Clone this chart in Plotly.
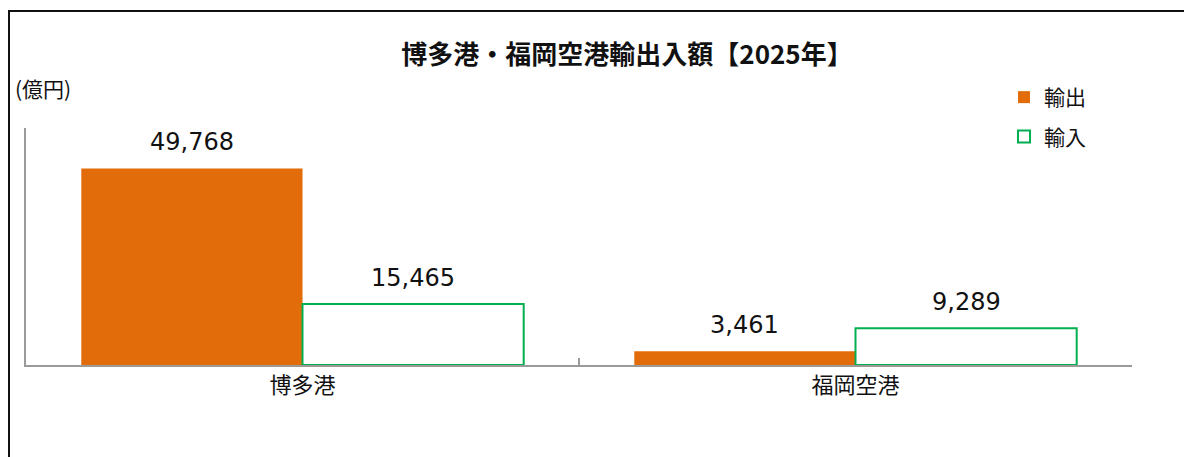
import plotly.graph_objects as go

categories = ["博多港", "福岡空港"]
export_values = [49768, 3461]
import_values = [15465, 9289]
series_names = ["輸出", "輸入"]
title_text = "博多港・福岡空港輸出入額【2025年】"
unit_text = "(億円)"

ORANGE = "#E36C0A"
GREEN = "#00B050"
AXIS = "#9A9A9A"
FONT = "Noto Sans CJK JP"
NUMFONT = "DejaVu Sans"

# the page body adds an 8px margin; target screen coords are converted below
OFF = 8
W, H = 1192 - OFF, 457 - OFF
PLOT_L, PLOT_R, PLOT_T, PLOT_B = 26, 1132, 128, 365  # screen px
ML = PLOT_L - OFF
MR = W - (PLOT_R - OFF)
MT = PLOT_T - OFF
MB = H - (PLOT_B - OFF)
PW, PH = W - ML - MR, H - MT - MB

def px2paper_x(px):
    return (px - OFF - ML) / PW

def px2paper_y(py):
    return (H - MB - (py - OFF)) / PH

fig = go.Figure()
fig.add_trace(go.Bar(
    x=categories, y=export_values, name=series_names[0],
    marker=dict(color=ORANGE, line=dict(width=0)),
    legendgroup="a",
))
fig.add_trace(go.Bar(
    x=categories, y=import_values, name=series_names[1],
    marker=dict(color="white", line=dict(color=GREEN, width=2)),
    legendgroup="b",
))

bargap = 0.2
bar_w = (1 - bargap) / 2
annotations = []
for i in range(len(categories)):
    for off, vals in ((-bar_w / 2, export_values), (bar_w / 2, import_values)):
        annotations.append(dict(
            x=i + off, y=vals[i], xref="x", yref="y",
            text=f"{vals[i]:,}", showarrow=False,
            yanchor="middle", yshift=26,
            font=dict(size=24, color="#111", family=NUMFONT),
        ))
annotations.append(dict(
    x=px2paper_x(13), y=px2paper_y(88), xref="paper", yref="paper",
    text=unit_text, showarrow=False, xanchor="left", yanchor="middle",
    font=dict(size=21, color="#111", family=FONT),
))

fig.update_layout(
    width=W, height=H,
    margin=dict(l=ML, r=MR, t=MT, b=MB, pad=0),
    paper_bgcolor="white", plot_bgcolor="white",
    barmode="group", bargap=bargap, bargroupgap=0,
    title=dict(text=f"<b>{title_text}</b>", x=(627 - OFF) / W, xref="container", xanchor="center",
               y=1 - (55 - OFF) / H, yref="container", yanchor="middle",
               font=dict(size=26, color="#111", family=FONT)),
    font=dict(family=FONT, color="#111"),
    showlegend=True,
    legend=dict(x=px2paper_x(1004), y=px2paper_y(77), xanchor="left", yanchor="top",
                font=dict(size=21, family=FONT, color="#111"),
                tracegroupgap=9, traceorder="grouped",
                bgcolor="rgba(0,0,0,0)", itemwidth=30),
    xaxis=dict(type="category", showline=True, linecolor=AXIS, linewidth=2,
               ticks="inside", tickson="boundaries", ticklen=7, tickcolor=AXIS, tickwidth=2,
               tickfont=dict(size=22, family=FONT, color="#111"),
               showgrid=False, zeroline=False),
    yaxis=dict(range=[0, 60000], showline=True, linecolor=AXIS, linewidth=2,
               showticklabels=False, ticks="", showgrid=False, zeroline=False),
    annotations=annotations,
    shapes=[dict(type="rect", xref="paper", yref="paper",
                 x0=px2paper_x(9), y0=px2paper_y(480), x1=px2paper_x(1220), y1=px2paper_y(11),
                 line=dict(color="#111", width=2), fillcolor="rgba(0,0,0,0)", layer="below")],
)

fig.write_html("out.html")
